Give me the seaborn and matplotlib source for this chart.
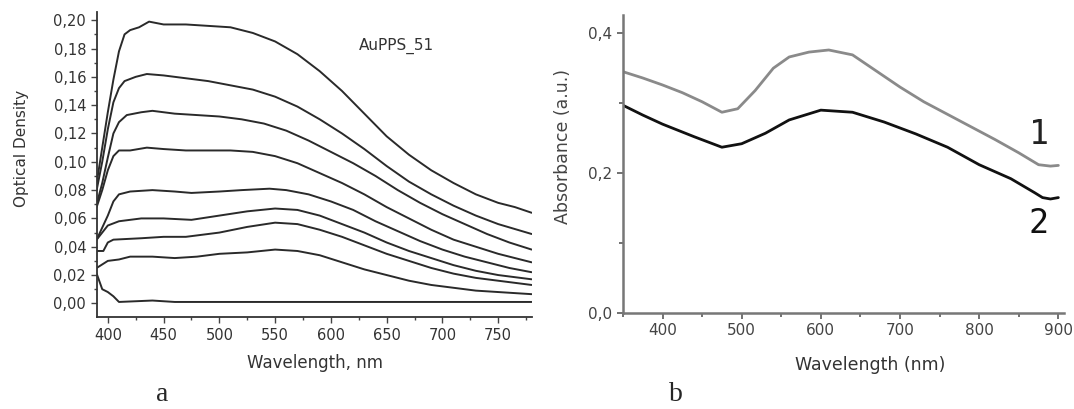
import numpy as np
import pandas as pd
import matplotlib
matplotlib.use("Agg")
import matplotlib.pyplot as plt
from matplotlib.ticker import MultipleLocator, FuncFormatter
import seaborn as sns

# --- panel a: AuPPS_51 spectra (wavelength, nm) ---
wl_a1 = [390, 395, 400, 405, 410, 415, 420, 428, 437, 450, 470, 490, 510, 530, 550, 570, 590, 610, 630, 650, 670, 690, 710, 730, 750, 765, 780]
od_a1 = [0.085, 0.110, 0.135, 0.158, 0.178, 0.190, 0.193, 0.195, 0.199, 0.197, 0.197, 0.196, 0.195, 0.191, 0.185, 0.176, 0.164, 0.150, 0.134, 0.118, 0.105, 0.094, 0.085, 0.077, 0.071, 0.068, 0.064]

wl_a2 = [390, 395, 400, 405, 410, 415, 425, 435, 450, 470, 490, 510, 530, 550, 570, 590, 610, 630, 650, 670, 690, 710, 730, 750, 780]
od_a2 = [0.080, 0.100, 0.123, 0.142, 0.152, 0.157, 0.160, 0.162, 0.161, 0.159, 0.157, 0.154, 0.151, 0.146, 0.139, 0.130, 0.120, 0.109, 0.097, 0.086, 0.077, 0.069, 0.062, 0.056, 0.049]

wl_a3 = [390, 395, 400, 405, 410, 417, 430, 440, 460, 480, 500, 520, 540, 560, 580, 600, 620, 640, 660, 680, 700, 720, 740, 760, 780]
od_a3 = [0.070, 0.085, 0.103, 0.120, 0.128, 0.133, 0.135, 0.136, 0.134, 0.133, 0.132, 0.130, 0.127, 0.122, 0.115, 0.107, 0.099, 0.090, 0.080, 0.071, 0.063, 0.056, 0.049, 0.043, 0.038]

wl_a4 = [390, 395, 400, 405, 410, 420, 435, 450, 470, 490, 510, 530, 550, 570, 590, 610, 630, 650, 670, 690, 710, 730, 750, 780]
od_a4 = [0.068, 0.080, 0.094, 0.104, 0.108, 0.108, 0.110, 0.109, 0.108, 0.108, 0.108, 0.107, 0.104, 0.099, 0.092, 0.085, 0.077, 0.068, 0.060, 0.052, 0.045, 0.040, 0.035, 0.029]

wl_a5 = [390, 400, 405, 410, 420, 440, 460, 475, 500, 520, 545, 560, 580, 600, 620, 640, 660, 680, 700, 720, 740, 760, 780]
od_a5 = [0.045, 0.062, 0.072, 0.077, 0.079, 0.080, 0.079, 0.078, 0.079, 0.080, 0.081, 0.080, 0.077, 0.072, 0.066, 0.058, 0.051, 0.044, 0.038, 0.033, 0.029, 0.025, 0.022]

wl_a6 = [390, 395, 400, 410, 430, 450, 475, 500, 525, 550, 570, 590, 610, 630, 650, 670, 690, 710, 730, 750, 780]
od_a6 = [0.045, 0.050, 0.055, 0.058, 0.060, 0.060, 0.059, 0.062, 0.065, 0.067, 0.066, 0.062, 0.056, 0.050, 0.043, 0.037, 0.032, 0.027, 0.023, 0.020, 0.017]

wl_a7 = [390, 396, 400, 405, 430, 450, 470, 500, 525, 550, 570, 590, 610, 630, 650, 670, 690, 710, 730, 750, 780]
od_a7 = [0.037, 0.037, 0.043, 0.045, 0.046, 0.047, 0.047, 0.050, 0.054, 0.057, 0.056, 0.052, 0.047, 0.041, 0.035, 0.030, 0.025, 0.021, 0.018, 0.016, 0.013]

wl_a8 = [390, 400, 410, 420, 440, 460, 480, 500, 525, 550, 570, 590, 610, 630, 650, 670, 690, 710, 730, 750, 780]
od_a8 = [0.025, 0.030, 0.031, 0.033, 0.033, 0.032, 0.033, 0.035, 0.036, 0.038, 0.037, 0.034, 0.029, 0.024, 0.020, 0.016, 0.013, 0.011, 0.009, 0.008, 0.0065]

wl_a9 = [390, 395, 400, 405, 410, 440, 460, 500, 600, 700, 780]
od_a9 = [0.021, 0.010, 0.008, 0.005, 0.001, 0.002, 0.001, 0.001, 0.001, 0.001, 0.001]

# --- panel b: absorbance, curves 1 and 2 ---
wl_b1 = [350, 375, 400, 425, 450, 475, 495, 517, 540, 560, 585, 610, 640, 670, 700, 730, 760, 790, 820, 850, 875, 890, 900]
ab_b1 = [0.345, 0.336, 0.326, 0.315, 0.302, 0.287, 0.292, 0.318, 0.350, 0.366, 0.373, 0.376, 0.369, 0.346, 0.323, 0.302, 0.284, 0.266, 0.248, 0.229, 0.212, 0.210, 0.211]

wl_b2 = [350, 375, 400, 440, 475, 500, 530, 560, 600, 640, 680, 720, 760, 800, 840, 870, 880, 890, 900]
ab_b2 = [0.297, 0.283, 0.270, 0.252, 0.237, 0.242, 0.257, 0.276, 0.290, 0.287, 0.273, 0.256, 0.237, 0.212, 0.192, 0.172, 0.165, 0.163, 0.165]

series_a = [(wl_a1, od_a1), (wl_a2, od_a2), (wl_a3, od_a3), (wl_a4, od_a4), (wl_a5, od_a5),
            (wl_a6, od_a6), (wl_a7, od_a7), (wl_a8, od_a8), (wl_a9, od_a9)]

sns.set_style("ticks")
plt.rcParams['font.family'] = ['DejaVu Sans']

fig = plt.figure(figsize=(10.74, 4.09), dpi=100)
ax_a = fig.add_axes([0.090, 0.224, 0.405, 0.747])
ax_b = fig.add_axes([0.580, 0.2347, 0.4106, 0.7286])

# ---------------- panel a ----------------
for x, y in series_a:
    sns.lineplot(x=x, y=y, ax=ax_a, color="#2a2a2a", linewidth=1.4, sort=False)

ax_a.set_xlim(390, 780)
ax_a.set_ylim(-0.0099, 0.2059)
ax_a.xaxis.set_major_locator(MultipleLocator(50))
ax_a.xaxis.set_minor_locator(MultipleLocator(25))
ax_a.yaxis.set_major_locator(MultipleLocator(0.02))
ax_a.yaxis.set_minor_locator(MultipleLocator(0.01))
ax_a.yaxis.set_major_formatter(FuncFormatter(lambda v, p: f"{v:.2f}".replace(".", ",")))
ax_a.tick_params(which="major", length=4, width=1, color="#444444", labelsize=10.5, labelcolor="#333333")
ax_a.tick_params(which="minor", length=2.5, width=1, color="#444444")
ax_a.set_xlabel("Wavelength, nm", fontsize=12, color="#333333", va="top")
ax_a.set_ylabel("Optical Density", fontsize=11, color="#333333")
ax_a.xaxis.set_label_coords(0.502, -0.12)
ax_a.yaxis.set_label_coords(-0.156, 0.554)
ax_a.text(659, 0.182, "AuPPS_51", fontsize=11, color="#333333", ha="center", va="center")
for side in ["top", "right"]:
    ax_a.spines[side].set_visible(False)
for side in ["left", "bottom"]:
    ax_a.spines[side].set_color("#333333")
    ax_a.spines[side].set_linewidth(1.3)

# ---------------- panel b ----------------
sns.lineplot(x=wl_b1, y=ab_b1, ax=ax_b, color="#8a8a8a", linewidth=2.0)
sns.lineplot(x=wl_b2, y=ab_b2, ax=ax_b, color="#111111", linewidth=2.0)
ax_b.set_xlim(350, 907)
ax_b.set_ylim(0, 0.426)
ax_b.xaxis.set_major_locator(MultipleLocator(100))
ax_b.xaxis.set_minor_locator(MultipleLocator(50))
ax_b.yaxis.set_major_locator(MultipleLocator(0.2))
ax_b.yaxis.set_minor_locator(MultipleLocator(0.1))
ax_b.yaxis.set_major_formatter(FuncFormatter(lambda v, p: f"{v:.1f}".replace(".", ",")))
ax_b.tick_params(which="major", length=4, width=1.3, color="#666666", labelsize=11, labelcolor="#444444")
ax_b.tick_params(which="minor", length=3, width=1.3, color="#666666")
ax_b.set_xlabel("Wavelength (nm)", fontsize=12.5, color="#333333", va="top")
ax_b.set_ylabel("Absorbance (a.u.)", fontsize=12.5, color="#444444")
ax_b.xaxis.set_label_coords(0.56, -0.145)
ax_b.yaxis.set_label_coords(-0.116, 0.56)
ax_b.text(875, 0.255, "1", fontsize=24, family="DejaVu Sans Mono", color="#222222", ha="center", va="center")
ax_b.text(875, 0.128, "2", fontsize=24, family="DejaVu Sans Mono", color="#111111", ha="center", va="center")
for side in ["top", "right"]:
    ax_b.spines[side].set_visible(False)
for side in ["left", "bottom"]:
    ax_b.spines[side].set_color("#777777")
    ax_b.spines[side].set_linewidth(1.8)

# panel letters
fig.text(0.151, 0.035, "a", fontsize=20, family="Liberation Serif", ha="center", va="center")
fig.text(0.629, 0.035, "b", fontsize=20, family="Liberation Serif", ha="center", va="center")

fig.savefig("out.png", dpi=100)
plt.close(fig)
